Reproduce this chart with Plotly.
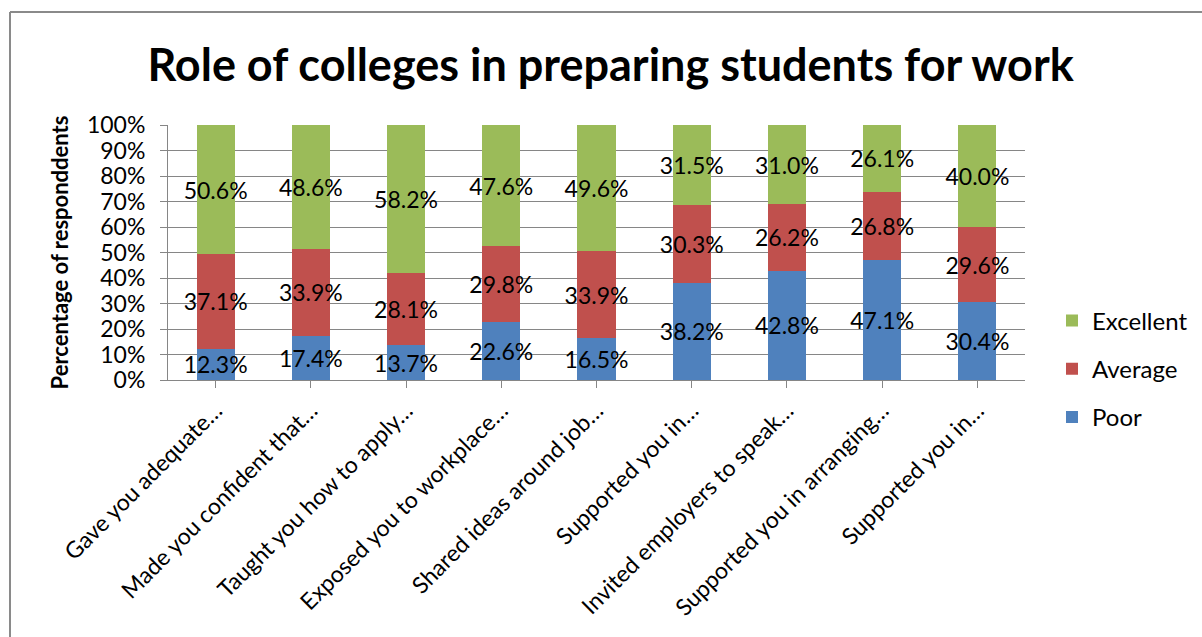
import plotly.graph_objects as go

categories = [
    "Gave you adequate…",
    "Made you confident that…",
    "Taught you how to apply…",
    "Exposed you to workplace…",
    "Shared ideas around job…",
    "Supported you in…",
    "Invited employers to speak…",
    "Supported you in arranging…",
    "Supported you in…",
]
cat_ids = list(range(len(categories)))
poor = [12.3, 17.4, 13.7, 22.6, 16.5, 38.2, 42.8, 47.1, 30.4]
average = [37.1, 33.9, 28.1, 29.8, 33.9, 30.3, 26.2, 26.8, 29.6]
excellent = [50.6, 48.6, 58.2, 47.6, 49.6, 31.5, 31.0, 26.1, 40.0]
y_ticks = list(range(0, 101, 10))

FONT = "Lato"
series = [("Poor", poor, "#4F81BD", 3), ("Average", average, "#C0504D", 2), ("Excellent", excellent, "#9BBB59", 1)]

fig = go.Figure()
for name, vals, color, rank in series:
    fig.add_trace(go.Bar(
        x=cat_ids, y=vals, name=name, marker=dict(color=color, line=dict(width=0)),
        text=[f"{v:.1f}%" for v in vals], textposition="inside", insidetextanchor="middle",
        textangle=0, constraintext="none", textfont=dict(family=FONT, size=23, color="black"),
        cliponaxis=False, width=0.4, legendgroup=name, legendrank=rank,
    ))

W, H = 1202, 637
L, R, T, B = 168, 1025, 125, 380
fig.update_layout(
    width=W, height=H, barmode="stack", barnorm="percent",
    margin=dict(l=L, r=W - R, t=T, b=H - B, autoexpand=False),
    paper_bgcolor="white", plot_bgcolor="white",
    font=dict(family=FONT, size=23, color="black"),
    title=dict(text="<b>Role of colleges in preparing students for work</b>",
               font=dict(family=FONT, size=45, color="black"),
               x=0.508, xanchor="center", y=1 - 65 / H, yanchor="middle"),
    legend=dict(x=(1052 - L) / (R - L), xanchor="left", y=(B - 369) / (B - T), yanchor="middle",
                traceorder="grouped", tracegroupgap=14, font=dict(family=FONT, size=24),
                itemwidth=30),
    showlegend=True,
    shapes=[
        dict(type="line", xref="paper", yref="paper", x0=(10 - L) / (R - L), x1=(1210 - L) / (R - L),
             y0=(B - 12) / (B - T), y1=(B - 12) / (B - T), line=dict(color="#8a8a8a", width=2)),
        dict(type="line", xref="paper", yref="paper", x0=(10 - L) / (R - L), x1=(10 - L) / (R - L),
             y0=(B - 12) / (B - T), y1=(B - 650) / (B - T), line=dict(color="#8a8a8a", width=2)),
    ],
)
fig.update_xaxes(
    tickmode="array", tickvals=cat_ids, ticktext=categories, tickangle=-45,
    tickson="boundaries", ticks="outside", ticklen=7, tickcolor="#868686",
    showgrid=True, gridcolor="#868686", gridwidth=1,
    showline=True, linecolor="#868686", linewidth=1, range=[-0.5, 8.5],
    tickfont=dict(family=FONT, size=23),
)
fig.update_yaxes(
    range=[0, 100], tickmode="array", tickvals=y_ticks, ticktext=[f"{v}%" for v in y_ticks],
    ticks="outside", ticklen=7, tickcolor="#868686", ticklabelstandoff=10,
    showgrid=True, gridcolor="#868686", gridwidth=1,
    showline=True, linecolor="#868686", linewidth=1, zeroline=False,
    tickfont=dict(family=FONT, size=23),
    title=dict(text="<b>Percentage of responddents</b>", font=dict(family=FONT, size=22), standoff=12),
)
fig.write_html("out.html")
